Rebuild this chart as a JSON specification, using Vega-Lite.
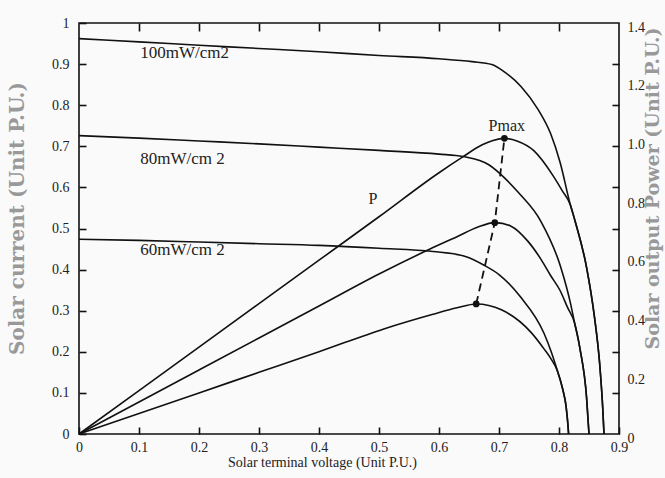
{
 "$schema": "https://vega.github.io/schema/vega-lite/v6.json",
 "width": 540,
 "height": 411,
 "autosize": {"type": "none"},
 "padding": {"left": 79, "top": 23, "right": 46, "bottom": 44},
 "background": "#fafafa",
 "config": {
  "view": {"stroke": "#111", "strokeWidth": 1.6, "fill": "transparent"},
  "axis": {"domain": false, "grid": false, "labelFont": "Liberation Serif", "labelFontSize": 14, "labelColor": "#222", "titleFont": "Liberation Serif", "titleFontWeight": "normal", "titleColor": "#222", "titleFontSize": 14, "labelFlush": false},
  "text": {"font": "Liberation Serif", "fontSize": 16, "color": "#222"},
  "line": {"color": "#111", "strokeWidth": 1.6}
 },
 "datasets": {
  "iv": [
   {"irr": "100", "V": 0, "I": 0.962}, {"irr": "100", "V": 0.1, "I": 0.954}, {"irr": "100", "V": 0.2, "I": 0.946}, {"irr": "100", "V": 0.3, "I": 0.938}, {"irr": "100", "V": 0.4, "I": 0.93}, {"irr": "100", "V": 0.5, "I": 0.921}, {"irr": "100", "V": 0.6, "I": 0.913}, {"irr": "100", "V": 0.655, "I": 0.906}, {"irr": "100", "V": 0.688, "I": 0.899}, {"irr": "100", "V": 0.709, "I": 0.881}, {"irr": "100", "V": 0.737, "I": 0.845}, {"irr": "100", "V": 0.765, "I": 0.79}, {"irr": "100", "V": 0.786, "I": 0.731}, {"irr": "100", "V": 0.802, "I": 0.66}, {"irr": "100", "V": 0.819, "I": 0.557}, {"irr": "100", "V": 0.827, "I": 0.517}, {"irr": "100", "V": 0.846, "I": 0.405}, {"irr": "100", "V": 0.859, "I": 0.286}, {"irr": "100", "V": 0.868, "I": 0.167}, {"irr": "100", "V": 0.873, "I": 0.06}, {"irr": "100", "V": 0.875, "I": 0},
   {"irr": "80", "V": 0, "I": 0.726}, {"irr": "80", "V": 0.1, "I": 0.72}, {"irr": "80", "V": 0.2, "I": 0.713}, {"irr": "80", "V": 0.3, "I": 0.706}, {"irr": "80", "V": 0.4, "I": 0.698}, {"irr": "80", "V": 0.5, "I": 0.69}, {"irr": "80", "V": 0.6, "I": 0.681}, {"irr": "80", "V": 0.64, "I": 0.675}, {"irr": "80", "V": 0.683, "I": 0.655}, {"irr": "80", "V": 0.71, "I": 0.622}, {"irr": "80", "V": 0.732, "I": 0.588}, {"irr": "80", "V": 0.77, "I": 0.517}, {"irr": "80", "V": 0.802, "I": 0.41}, {"irr": "80", "V": 0.812, "I": 0.36}, {"irr": "80", "V": 0.819, "I": 0.319}, {"irr": "80", "V": 0.826, "I": 0.27}, {"irr": "80", "V": 0.835, "I": 0.207}, {"irr": "80", "V": 0.846, "I": 0.088}, {"irr": "80", "V": 0.85, "I": 0},
   {"irr": "60", "V": 0, "I": 0.474}, {"irr": "60", "V": 0.1, "I": 0.471}, {"irr": "60", "V": 0.2, "I": 0.467}, {"irr": "60", "V": 0.3, "I": 0.463}, {"irr": "60", "V": 0.4, "I": 0.459}, {"irr": "60", "V": 0.5, "I": 0.452}, {"irr": "60", "V": 0.59, "I": 0.444}, {"irr": "60", "V": 0.644, "I": 0.432}, {"irr": "60", "V": 0.676, "I": 0.41}, {"irr": "60", "V": 0.7, "I": 0.388}, {"irr": "60", "V": 0.735, "I": 0.335}, {"irr": "60", "V": 0.775, "I": 0.245}, {"irr": "60", "V": 0.787, "I": 0.2}, {"irr": "60", "V": 0.797, "I": 0.155}, {"irr": "60", "V": 0.806, "I": 0.11}, {"irr": "60", "V": 0.812, "I": 0.065}, {"irr": "60", "V": 0.815, "I": 0.02}, {"irr": "60", "V": 0.816, "I": 0}
  ],
  "pv": [
   {"irr": "100", "V": 0, "P": 0}, {"irr": "100", "V": 0.1, "P": 0.148}, {"irr": "100", "V": 0.2, "P": 0.296}, {"irr": "100", "V": 0.3, "P": 0.444}, {"irr": "100", "V": 0.4, "P": 0.592}, {"irr": "100", "V": 0.5, "P": 0.74}, {"irr": "100", "V": 0.6, "P": 0.89}, {"irr": "100", "V": 0.639, "P": 0.943}, {"irr": "100", "V": 0.672, "P": 0.985}, {"irr": "100", "V": 0.69, "P": 1.0}, {"irr": "100", "V": 0.709, "P": 1.007}, {"irr": "100", "V": 0.73, "P": 0.998}, {"irr": "100", "V": 0.758, "P": 0.965}, {"irr": "100", "V": 0.79, "P": 0.88}, {"irr": "100", "V": 0.805, "P": 0.83}, {"irr": "100", "V": 0.819, "P": 0.78}, {"irr": "100", "V": 0.827, "P": 0.724}, {"irr": "100", "V": 0.846, "P": 0.567}, {"irr": "100", "V": 0.859, "P": 0.4}, {"irr": "100", "V": 0.868, "P": 0.234}, {"irr": "100", "V": 0.873, "P": 0.084}, {"irr": "100", "V": 0.875, "P": 0},
   {"irr": "80", "V": 0, "P": 0}, {"irr": "80", "V": 0.1, "P": 0.109}, {"irr": "80", "V": 0.2, "P": 0.218}, {"irr": "80", "V": 0.3, "P": 0.327}, {"irr": "80", "V": 0.4, "P": 0.436}, {"irr": "80", "V": 0.5, "P": 0.545}, {"irr": "80", "V": 0.585, "P": 0.63}, {"irr": "80", "V": 0.63, "P": 0.672}, {"irr": "80", "V": 0.665, "P": 0.705}, {"irr": "80", "V": 0.693, "P": 0.72}, {"irr": "80", "V": 0.72, "P": 0.708}, {"irr": "80", "V": 0.748, "P": 0.657}, {"irr": "80", "V": 0.77, "P": 0.595}, {"irr": "80", "V": 0.786, "P": 0.54}, {"irr": "80", "V": 0.802, "P": 0.488}, {"irr": "80", "V": 0.814, "P": 0.432}, {"irr": "80", "V": 0.826, "P": 0.378}, {"irr": "80", "V": 0.835, "P": 0.29}, {"irr": "80", "V": 0.846, "P": 0.123}, {"irr": "80", "V": 0.85, "P": 0},
   {"irr": "60", "V": 0, "P": 0}, {"irr": "60", "V": 0.1, "P": 0.07}, {"irr": "60", "V": 0.2, "P": 0.14}, {"irr": "60", "V": 0.3, "P": 0.21}, {"irr": "60", "V": 0.4, "P": 0.28}, {"irr": "60", "V": 0.508, "P": 0.358}, {"irr": "60", "V": 0.59, "P": 0.408}, {"irr": "60", "V": 0.63, "P": 0.43}, {"irr": "60", "V": 0.662, "P": 0.443}, {"irr": "60", "V": 0.704, "P": 0.423}, {"irr": "60", "V": 0.753, "P": 0.347}, {"irr": "60", "V": 0.775, "P": 0.29}, {"irr": "60", "V": 0.787, "P": 0.255}, {"irr": "60", "V": 0.797, "P": 0.217}, {"irr": "60", "V": 0.806, "P": 0.154}, {"irr": "60", "V": 0.812, "P": 0.091}, {"irr": "60", "V": 0.815, "P": 0.028}, {"irr": "60", "V": 0.816, "P": 0}
  ],
  "pm": [
   {"V": 0.662, "P": 0.443}, {"V": 0.693, "P": 0.72}, {"V": 0.709, "P": 1.007}
  ],
  "ivlab": [
   {"V": 0.102, "I": 0.927, "label": "100mW/cm2"},
   {"V": 0.102, "I": 0.669, "label": "80mW/cm 2"},
   {"V": 0.102, "I": 0.447, "label": "60mW/cm 2"}
  ],
  "pvlab": [
   {"V": 0.49, "P": 0.8, "label": "P"},
   {"V": 0.713, "P": 1.05, "label": "Pmax"}
  ]
 },
 "layer": [
  {
   "encoding": {
    "x": {"field": "V", "type": "quantitative", "scale": {"domain": [0, 0.9]},
     "axis": {"orient": "bottom", "zindex": 2, "values": [0, 0.1, 0.2, 0.3, 0.4, 0.5, 0.6, 0.7, 0.8, 0.9], "offset": -7, "ticks": true, "tickSize": 7, "tickColor": "#111111", "tickWidth": 1.6, "labelPadding": 6, "labelExpr": "datum.value == 0 ? '0' : format(datum.value, '.1f')", "title": "Solar terminal voltage (Unit P.U.)", "titleX": 243, "titleY": 35, "titleBaseline": "middle", "titleAnchor": "start", "titleAlign": "center"}},
    "y": {"field": "I", "type": "quantitative", "scale": {"domain": [0, 1]},
     "axis": {"orient": "left", "zindex": 2, "values": [0, 0.1, 0.2, 0.3, 0.4, 0.5, 0.6, 0.7, 0.8, 0.9, 1], "offset": -7, "ticks": true, "tickSize": 7, "tickColor": "#111111", "tickWidth": 1.6, "labelPadding": 10, "labelExpr": "datum.value == 0 ? '0' : datum.value == 1 ? '1' : format(datum.value, '.1f')", "title": "Solar current (Unit P.U.)", "titleFont": "DejaVu Serif", "titleFontWeight": "bold", "titleFontSize": 20, "titleColor": "#999999", "titleX": -69, "titleY": 195, "titleAngle": -90, "titleAlign": "center", "titleBaseline": "middle"}}
   },
   "layer": [
    {"data": {"name": "iv"}, "mark": {"type": "line", "interpolate": "monotone"}, "encoding": {"detail": {"field": "irr"}}},
    {"data": {"name": "ivlab"}, "mark": {"type": "text", "align": "left", "baseline": "middle", "fontSize": 17}, "encoding": {"text": {"field": "label"}}}
   ]
  },
  {
   "encoding": {
    "x": {"field": "V", "type": "quantitative", "scale": {"domain": [0, 0.9]}, "axis": null},
    "y": {"field": "P", "type": "quantitative", "scale": {"domain": [0, 1.4]},
     "axis": {"orient": "right", "values": [0, 0.2, 0.4, 0.6, 0.8, 1.0, 1.2, 1.4], "ticks": false, "tickSize": 0, "labelPadding": 8, "labelOffset": 4, "labelExpr": "datum.value == 0 ? '0' : format(datum.value, '.1f')", "title": "Solar output Power (Unit P.U.)", "titleFont": "DejaVu Serif", "titleFontWeight": "bold", "titleFontSize": 19, "titleColor": "#999999", "titleX": 33, "titleY": 165, "titleAngle": -90, "titleAlign": "center", "titleBaseline": "middle"}}
   },
   "layer": [
    {"data": {"name": "pv"}, "mark": {"type": "line", "interpolate": "monotone"}, "encoding": {"detail": {"field": "irr"}}},
    {"data": {"name": "pm"}, "mark": {"type": "line", "strokeDash": [8, 5], "strokeWidth": 1.8}, "encoding": {}},
    {"data": {"name": "pm"}, "mark": {"type": "point", "filled": true, "color": "#111", "opacity": 1, "size": 45}, "encoding": {}},
    {"data": {"name": "pvlab"}, "mark": {"type": "text", "align": "center", "baseline": "middle"}, "encoding": {"text": {"field": "label"}}}
   ]
  },
  {
   "data": {"name": "iv"},
   "mark": {"type": "line", "strokeOpacity": 0},
   "encoding": {
    "x": {"field": "V", "type": "quantitative", "scale": {"domain": [0, 0.9]}, "axis": {"orient": "top", "zindex": 2, "values": [0.1, 0.2, 0.3, 0.4, 0.5, 0.6, 0.7, 0.8], "labels": false, "offset": -8, "ticks": true, "tickSize": 8, "tickColor": "#111111", "tickWidth": 1.6, "title": null}},
    "y": {"field": "I", "type": "quantitative", "scale": {"domain": [0, 1]}, "axis": {"orient": "right", "zindex": 2, "values": [0.1, 0.2, 0.3, 0.4, 0.5, 0.6, 0.7, 0.8, 0.9], "labels": false, "offset": -7, "ticks": true, "tickSize": 7, "tickColor": "#111111", "tickWidth": 1.6, "title": null}},
    "detail": {"field": "irr"}
   }
  }
 ],
 "resolve": {"scale": {"x": "independent", "y": "independent"}}
}
